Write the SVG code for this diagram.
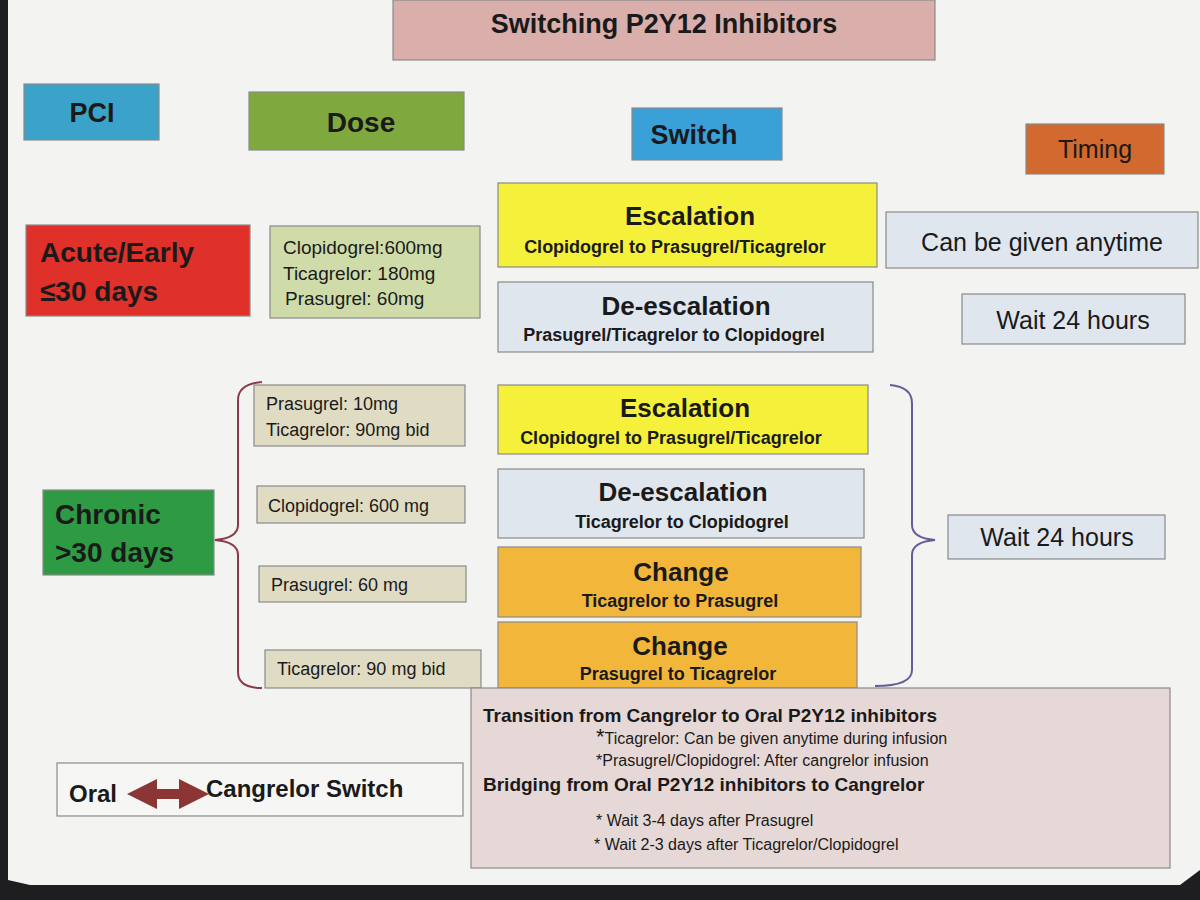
<svg xmlns="http://www.w3.org/2000/svg" width="1200" height="900" viewBox="0 0 1200 900">
<style>
text{font-family:"Liberation Sans",Arial,sans-serif;fill:#1a1a1a}
.b{font-weight:bold}
.box{stroke:#8a8a8a;stroke-width:1.2}
</style>
<defs>
<marker id="ah" viewBox="0 0 10 10" refX="5" refY="5" markerWidth="3" markerHeight="3" orient="auto-start-reverse"><path d="M0,0L10,5L0,10z" fill="#8b3535"/></marker>
</defs>
<rect width="1200" height="900" fill="#1e1e20"/>
<path d="M8,0H1200V870L1180,885H30L8,880Z" fill="#f3f3f1"/>

<g id="title"><rect class="box" x="393" y="0" width="542" height="60" fill="#d9aeab"/><text class="b" x="664" y="33" font-size="27" text-anchor="middle">Switching P2Y12 Inhibitors</text></g>
<g id="pci"><rect class="box" x="24" y="84" width="135" height="56" fill="#3ba3c9"/><text class="b" x="92" y="122" font-size="27" text-anchor="middle">PCI</text></g>
<g id="dose"><rect class="box" x="249" y="92" width="215" height="58" fill="#7fa83e"/><text class="b" x="361" y="132" font-size="28" text-anchor="middle">Dose</text></g>
<g id="switch"><rect class="box" x="632" y="108" width="150" height="52" fill="#3aa0d8"/><text class="b" x="694" y="144" font-size="27" text-anchor="middle">Switch</text></g>
<g id="timing"><rect class="box" x="1026" y="124" width="138" height="50" fill="#d2692e"/><text x="1095" y="158" font-size="25" text-anchor="middle">Timing</text></g>

<g id="acute"><rect class="box" x="26" y="225" width="224" height="91" fill="#e0302a"/><text class="b" x="40" y="262" font-size="28">Acute/Early</text><text class="b" x="40" y="301" font-size="28">≤30 days</text></g>
<g id="dose1"><rect class="box" x="270" y="226" width="210" height="92" fill="#cfdcaa"/><text font-size="19"><tspan x="283" y="254">Clopidogrel:600mg</tspan><tspan x="283" y="280">Ticagrelor: 180mg</tspan><tspan x="285" y="305">Prasugrel: 60mg</tspan></text></g>
<g id="esc1"><rect class="box" x="498" y="183" width="379" height="84" fill="#f5f03a"/><text class="b" x="690" y="225" font-size="26" text-anchor="middle">Escalation</text><text class="b" x="675" y="253" font-size="18" text-anchor="middle">Clopidogrel to Prasugrel/Ticagrelor</text></g>
<g id="deesc1"><rect class="box" x="498" y="282" width="375" height="70" fill="#dfe6ee"/><text class="b" x="686" y="315" font-size="26" text-anchor="middle">De-escalation</text><text class="b" x="674" y="341" font-size="18" text-anchor="middle">Prasugrel/Ticagrelor to Clopidogrel</text></g>
<g id="anytime"><rect class="box" x="886" y="212" width="312" height="56" fill="#dfe6ee"/><text x="1042" y="251" font-size="25" text-anchor="middle">Can be given anytime</text></g>
<g id="wait1"><rect class="box" x="962" y="294" width="223" height="50" fill="#dfe6ee"/><text x="1073" y="329" font-size="25" text-anchor="middle">Wait 24 hours</text></g>

<g id="chronic"><rect class="box" x="43" y="490" width="171" height="85" fill="#2e9a44"/><text class="b" x="55" y="524" font-size="28">Chronic</text><text class="b" x="55" y="562" font-size="28">&gt;30 days</text></g>
<g id="dose2"><rect class="box" x="254" y="385" width="211" height="61" fill="#e0dcc4"/><text font-size="18"><tspan x="266" y="410">Prasugrel: 10mg</tspan><tspan x="266" y="436">Ticagrelor: 90mg bid</tspan></text></g>
<g id="dose3"><rect class="box" x="257" y="486" width="208" height="37" fill="#e0dcc4"/><text x="268" y="512" font-size="18">Clopidogrel: 600 mg</text></g>
<g id="dose4"><rect class="box" x="259" y="566" width="207" height="36" fill="#e0dcc4"/><text x="271" y="591" font-size="18">Prasugrel: 60 mg</text></g>
<g id="dose5"><rect class="box" x="265" y="650" width="216" height="38" fill="#e0dcc4"/><text x="277" y="675" font-size="18">Ticagrelor: 90 mg bid</text></g>

<g id="esc2"><rect class="box" x="498" y="385" width="370" height="69" fill="#f5f03a"/><text class="b" x="685" y="417" font-size="26" text-anchor="middle">Escalation</text><text class="b" x="671" y="444" font-size="18" text-anchor="middle">Clopidogrel to Prasugrel/Ticagrelor</text></g>
<g id="deesc2"><rect class="box" x="498" y="469" width="366" height="69" fill="#dfe6ee"/><text class="b" x="683" y="501" font-size="26" text-anchor="middle">De-escalation</text><text class="b" x="682" y="528" font-size="18" text-anchor="middle">Ticagrelor to Clopidogrel</text></g>
<g id="change1"><rect class="box" x="498" y="547" width="363" height="70" fill="#f2b63a"/><text class="b" x="681" y="581" font-size="26" text-anchor="middle">Change</text><text class="b" x="680" y="607" font-size="18" text-anchor="middle">Ticagrelor to Prasugrel</text></g>
<g id="change2"><rect class="box" x="498" y="622" width="359" height="66" fill="#f2b63a"/><text class="b" x="680" y="655" font-size="26" text-anchor="middle">Change</text><text class="b" x="678" y="680" font-size="18" text-anchor="middle">Prasugrel to Ticagrelor</text></g>
<g id="wait2"><rect class="box" x="948" y="515" width="217" height="44" fill="#dfe6ee"/><text x="1057" y="546" font-size="25" text-anchor="middle">Wait 24 hours</text></g>

<g id="cangrelor"><rect class="box" x="471" y="688" width="699" height="180" fill="#e6d8d6"/>
<text class="b" x="483" y="722" font-size="19">Transition from Cangrelor to Oral P2Y12 inhibitors</text>
<text x="596" y="744" font-size="16"><tspan font-size="22">*</tspan>Ticagrelor: Can be given anytime during infusion</text>
<text x="596" y="766" font-size="16">*Prasugrel/Clopidogrel: After cangrelor infusion</text>
<text class="b" x="483" y="791" font-size="19">Bridging from Oral P2Y12 inhibitors to Cangrelor</text>
<text x="596" y="826" font-size="16">*  Wait 3-4 days after Prasugrel</text>
<text x="594" y="850" font-size="16">*  Wait 2-3 days after Ticagrelor/Clopidogrel</text></g>

<g id="oral"><rect class="box" x="57" y="763" width="406" height="53" fill="#f6f6f4"/><text class="b" x="69" y="802" font-size="24">Oral</text><text class="b" x="206" y="797" font-size="24">Cangrelor Switch</text></g>

<g id="connectors" fill="none" stroke-width="2">
<path d="M262,382 Q238,384 238,400 V525 Q238,538 215,540 Q238,542 238,555 V672 Q238,688 262,688" stroke="#8b3a4a"/>
<path d="M890,385 Q912,387 912,403 V525 Q912,538 935,540 Q912,542 912,555 V670 Q912,686 875,686" stroke="#6b5a9a"/>
<line x1="142" y1="794" x2="194" y2="794" stroke="#8b3535" stroke-width="10" marker-start="url(#ah)" marker-end="url(#ah)"/>
</g>
</svg>
